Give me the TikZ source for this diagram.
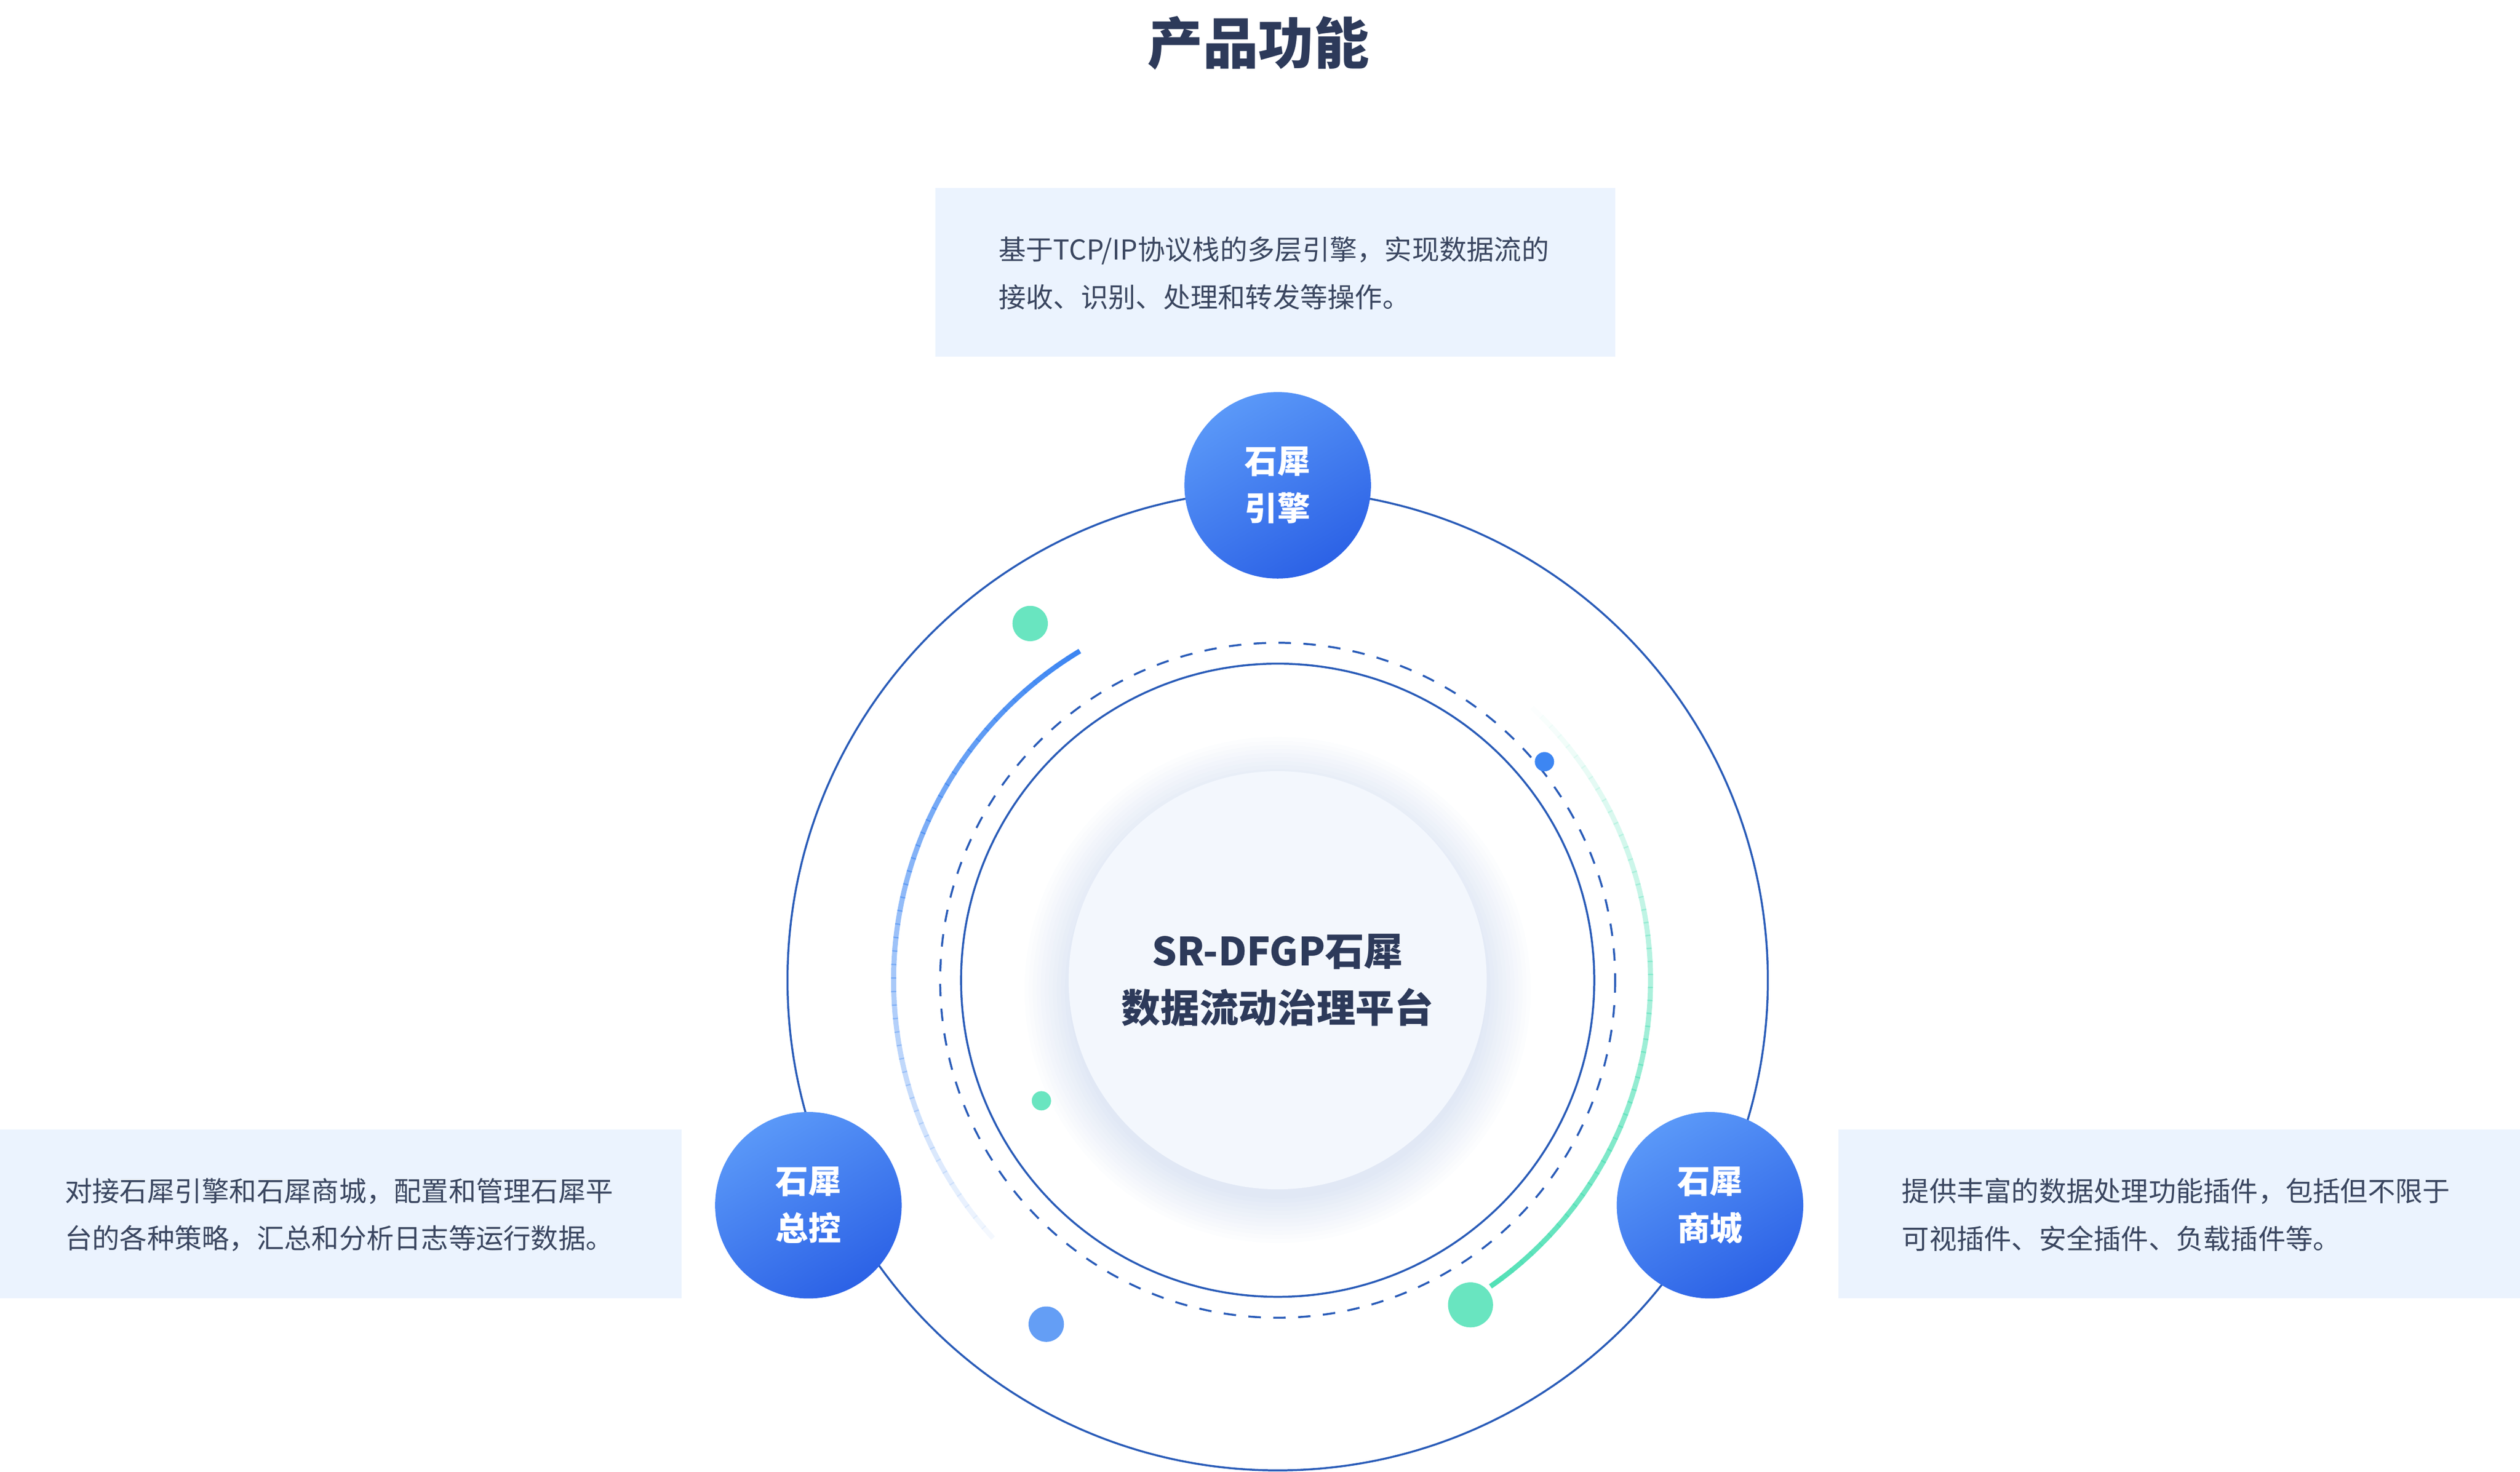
\documentclass[tikz,border=0pt]{standalone}
\usepackage{fontspec}
\setmainfont{Noto Sans CJK SC}
\usetikzlibrary{positioning}
\definecolor{navy}{HTML}{2D3A5A}
\definecolor{ring}{HTML}{2A5CB8}
\definecolor{boxbg}{HTML}{EBF3FE}
\definecolor{corebg}{HTML}{F3F7FD}
\definecolor{txt}{HTML}{3A4660}
\definecolor{nodetop}{HTML}{5A98F8}
\definecolor{nodebot}{HTML}{2C62E6}
\definecolor{mint}{HTML}{4FE0B5}
\definecolor{sky}{HTML}{3D86F2}
\tikzset{
  infobox/.style={fill=boxbg,draw=none},
  infotext/.style={font=\fontsize{4.85}{8.4}\selectfont,text=txt,align=left,anchor=west},
  hub/.style={circle,minimum size=1.16cm,inner sep=0pt,top color=nodetop,bottom color=nodebot,
    shading angle=30,text=white,font=\fontsize{5.8}{8.3}\selectfont\bfseries,align=center},
  dot/.style={circle,inner sep=0pt,draw=none}
}
\begin{document}
\begin{tikzpicture}[x=0.01cm,y=-0.01cm]
    \useasboundingbox (0,0) rectangle (1568,916);
    %% Title
    \node[font=\fontsize{9.8}{12}\selectfont\bfseries,text=navy] (title) at (783,27) {产品功能};
    %% Boxes
    \fill[infobox] (582,117) rectangle (1005,222);
        \node[infotext] (topinfo) at (609,170) {基于TCP/IP协议栈的多层引擎，实现数据流的\\接收、识别、处理和转发等操作。};
    \fill[infobox] (0,703) rectangle (424,808);
        \node[infotext] (leftinfo) at (28,756) {对接石犀引擎和石犀商城，配置和管理石犀平\\台的各种策略，汇总和分析日志等运行数据。};
    \fill[infobox] (1144,703) rectangle (1568,808);
        \node[infotext] (rightinfo) at (1171,756) {提供丰富的数据处理功能插件，包括但不限于\\可视插件、安全插件、负载插件等。};
    %% Rings
    \coordinate (c) at (795,610);
    \draw[ring,line width=0.35pt] (c) circle [radius=305];
    \draw[ring,line width=0.35pt] (c) circle [radius=197];
    \draw[ring,line width=0.35pt,dash pattern=on 2.2pt off 2.2pt] (c) circle [radius=210];
    %% Fading arcs
    \foreach \a in {0,...,49}
        \draw[sky,line width=0.9pt,opacity={1-\a/52}] ([shift={(121+\a*2.02:239 and -239)}]c) arc [start angle=121+\a*2.02,end angle=123.2+\a*2.02,x radius=239,y radius=-239];
    \foreach \a in {0,...,51}
        \draw[mint,line width=0.9pt,opacity={\a/52}] ([shift={(49-\a*2.0:232 and -232)}]c) arc [start angle=49-\a*2.0,end angle=46.8-\a*2.0,x radius=232,y radius=-232];
    %% Centre disc with soft shadow
    \foreach \r in {0,...,11}
        \fill[ring,opacity=0.012] ([yshift=-0.06cm]c) circle [radius=130+\r*2.5];
    \node[circle,fill=corebg,minimum size=2.6cm,inner sep=0pt,
        font=\fontsize{6.9}{10}\selectfont\bfseries,text=navy,align=center] (core) at (c) {SR-DFGP石犀\\数据流动治理平台};
    %% Dots
    \node[dot,fill=mint!85,minimum size=0.22cm] (d1) at (641,388) {};
    \node[dot,fill=sky,minimum size=0.12cm] (d2) at (961,474) {};
    \node[dot,fill=mint!85,minimum size=0.12cm] (d3) at (648,685) {};
    \node[dot,fill=sky!80,minimum size=0.22cm] (d4) at (651,824) {};
    \node[dot,fill=mint!85,minimum size=0.28cm] (d5) at (915,812) {};
    %% Hubs
    \node[hub] (engine) at (795,302) {石犀\\引擎};
    \node[hub] (console) at (503,750) {石犀\\总控};
    \node[hub] (store) at (1064,750) {石犀\\商城};
\end{tikzpicture}
\end{document}
